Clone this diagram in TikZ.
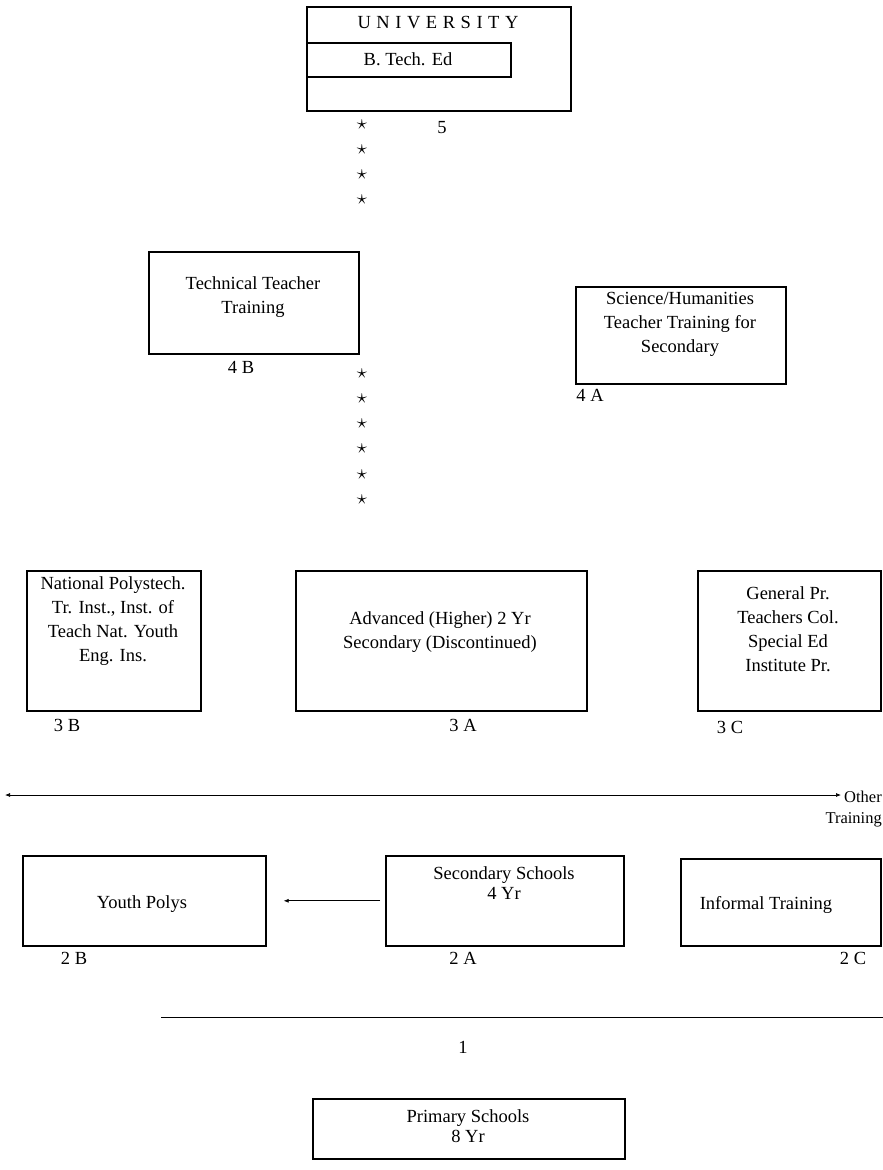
\documentclass[tikz,border=0pt]{standalone}
\usepackage{fontspec}
\setmainfont{Liberation Serif}
\newfontfamily\spacedfont[LetterSpace=30]{Liberation Serif}
\usetikzlibrary{arrows.meta}
\begin{document}
\begin{tikzpicture}[x=1pt,y=-1pt,
  box/.style={draw, line width=1.6pt, inner sep=0pt, anchor=north west},
  txt/.style={font=\fontsize{18.5}{24}\selectfont, align=center, inner sep=0pt},
  txtb/.style={font=\fontsize{18.5}{20}\selectfont, align=center, inner sep=0pt},
  lbl/.style={font=\fontsize{18.5}{24}\selectfont, inner sep=0pt},
  astx/.style={font=\fontsize{20}{20}\selectfont, inner sep=0pt},
  thinline/.style={line width=0.7pt},
  link/.style={line width=0.7pt, -{Latex[length=5pt,width=4pt]}}
]
\useasboundingbox (0,0) rectangle (883,1170);

% University
\node[box, minimum width=264pt, minimum height=104pt] (uni) at (306,6) {};
\node[lbl] (unit) at (438,23) {\spacedfont UNIVERSITY};
\node[box, minimum width=204pt, minimum height=34pt] (btech) at (306,42) {};
\node[lbl] (btecht) at (408,59) {B. Tech. Ed};
\node[lbl] (l5) at (442,128) {5};
\foreach \y in {125,150,175,200} \node[astx] (sa\y) at (362,\y) {$\star$};

% Level 4
\node[box, minimum width=210pt, minimum height=102pt] (ttt) at (148,251) {};
\node[txt] (tttt) at (253,297) {Technical Teacher\\Training};
\node[lbl] (l4b) at (241,367) {4 B};
\foreach \y in {374,399,424,449,475,500} \node[astx] (sb\y) at (362,\y) {$\star$};

\node[box, minimum width=210pt, minimum height=97pt] (sci) at (575,286) {};
\node[txt] (scit) at (680,324) {Science/Humanities\\Teacher Training for\\Secondary};
\node[lbl] (l4a) at (590,395) {4 A};

% Level 3
\node[box, minimum width=174pt, minimum height=140pt] (nat) at (26,570) {};
\node[txt] (natt) at (113,621) {National Polystech.\\Tr. Inst., Inst. of\\Teach Nat. Youth\\Eng. Ins.};
\node[lbl] (l3b) at (67,725) {3 B};

\node[box, minimum width=291pt, minimum height=140pt] (adv) at (295,570) {};
\node[txt] (advt) at (440,632) {Advanced (Higher) 2 Yr\\Secondary (Discontinued)};
\node[lbl] (l3a) at (463,725) {3 A};

\node[box, minimum width=183pt, minimum height=140pt] (gen) at (697,570) {};
\node[txt] (gent) at (788,629) {General Pr.\\Teachers Col.\\Special Ed\\Institute Pr.};
\node[lbl] (l3c) at (730,727) {3 C};

% Other training line
\coordinate (ol) at (5,795);
\coordinate (or) at (841,795);
\draw[thinline, {Latex[length=5pt,width=4pt]}-{Latex[length=5pt,width=4pt]}] (ol) -- (or);
\node[lbl, font=\fontsize{16.5}{20}\selectfont, anchor=east] (oth) at (882,797) {Other};
\node[lbl, font=\fontsize{16.5}{20}\selectfont, anchor=east] (otr) at (882,820) {Training};

% Level 2
\node[box, minimum width=243pt, minimum height=90pt] (youth) at (22,855) {};
\node[lbl] (youtht) at (142,904) {Youth Polys};
\node[lbl] (l2b) at (74,958) {2 B};

\node[box, minimum width=238pt, minimum height=90pt] (sec) at (385,855) {};
\node[txtb] (sect) at (504,883) {Secondary Schools\\4 Yr};
\node[lbl] (l2a) at (463,958) {2 A};
\draw[link, shorten <=5pt, shorten >=17pt] (sec.west) -- (youth.east);

\node[box, minimum width=200pt, minimum height=87pt] (inf) at (680,858) {};
\node[lbl] (inft) at (766,905) {Informal Training};
\node[lbl] (l2c) at (853,958) {2 C};

% Level 1
\coordinate (ha) at (161,1017);
\coordinate (hb) at (883,1017);
\draw[thinline] (ha) -- (hb);
\node[lbl] (l1) at (463,1047) {1};

\node[box, minimum width=312pt, minimum height=60pt] (pri) at (312,1098) {};
\node[txtb] (prit) at (468,1126) {Primary Schools\\8 Yr};
\end{tikzpicture}
\end{document}
